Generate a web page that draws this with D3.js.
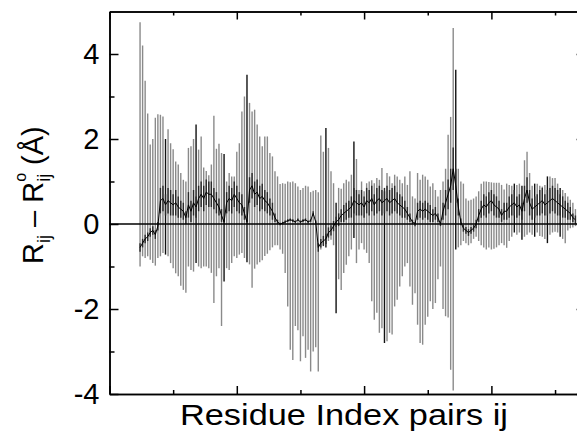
<!DOCTYPE html>
<html>
<head>
<meta charset="utf-8">
<script src="https://cdn.jsdelivr.net/npm/d3@7"></script>
<style>
  body { margin: 0; background: #fff; }
  text { font-family: "Liberation Sans", Arial, sans-serif; }
</style>
</head>
<body>
<script>
// residue pair ij runs from firstPair upwards, one entry per pair
var firstPair = 12;

var upper = [
  4.75, 4.2, 3.37, 2.6, 1.87, 2.0, 2.5, 2.58, 2.57, 2.53, 2.0, 2.23, 1.9, 1.76, 1.47, 1.4, 1.2, 1.04, 1.0, 1.79, 1.83, 2.0, 2.34, 1.75, 2.06, 1.33, 1.25, 1.15,
  1.4, 2.55, 1.77, 1.89, 1.67, 1.65, 1.0, 1.2, 1.12, 1.12, 1.7, 1.9, 2.65, 3.0, 3.51, 2.85, 2.65, 2.69, 2.34, 2.06, 1.83, 2.06, 2.06, 1.67, 1.59, 1.24, 1.12, 0.94, 0.96,
  0.95, 1.0, 0.98, 1.0, 0.96, 0.88, 0.8, 0.85, 0.9, 0.88, 0.75, 0.78, 0.8, 0.75, 2.08, 1.7, 2.26, 1.79, 1.24, 0.96, 0.5, 0.85, 0.83, 0.96, 1.04, 1.0, 1.16, 1.94, 1.53,
  0.8, 1.0, 0.77, 0.96, 1.0, 1.03, 0.96, 1.08, 1.04, 1.32, 0.77, 1.2, 1.12, 0.96, 1.16, 1.12, 1.04, 0.96, 1.12, 0.92, 1.24, 0.65, 0.6, 1.2, 1.04, 1.16, 1.12, 1.04, 0.88,
  0.96, 0.8, 0.65, 0.8, 1.0, 1.3, 2.1, 2.52, 4.61, 3.63, 1.3, 1.0, 0.95, 0.6, 0.55, 0.57, 0.6, 0.65, 0.77, 0.95, 1.0, 1.0, 0.99, 0.98, 0.97, 0.97, 0.97, 0.92, 0.81,
  0.95, 0.92, 0.9, 0.95, 0.92, 0.95, 0.9, 1.5, 1.7, 1.2, 0.9, 0.95, 0.95, 0.9, 0.88, 0.92, 1.12, 1.12, 1.08, 1.08, 0.95, 0.85, 0.8, 0.73, 0.65, 0.57, 0.5, 0.35
];

var lower = [
  -1.0, -0.76, -0.8, -0.76, -0.84, -0.92, -0.98, -0.8, -0.76, -0.68, -0.72, -0.76, -0.92, -1.04, -1.16, -1.23, -1.45, -1.55, -1.62, -1.0, -1.08, -1.12, -0.92, -1.0, -1.04, -1.0, -1.0, -1.04,
  -1.15, -1.86, -1.23, -1.04, -2.4, -1.35, -1.04, -1.08, -0.92, -0.76, -0.8, -0.72, -0.68, -0.8, -0.9, -0.95, -1.5, -1.05, -0.95, -0.9, -0.85, -0.75, -0.7, -0.62, -0.55, -0.5, -0.5, -0.6, -0.7,
  -1.15, -1.94, -2.96, -3.2, -2.4, -2.5, -3.23, -2.64, -3.15, -2.96, -3.47, -3.0, -2.9, -3.47, -0.6, -0.5, -0.55, -0.4, -0.37, -0.5, -2.1, -1.3, -1.55, -1.15, -0.96, -0.76, -0.6, -0.33, -0.92,
  -0.6, -0.45, -0.6, -0.68, -0.92, -1.82, -2.25, -2.09, -2.56, -2.45, -2.8, -2.76, -2.56, -2.6, -1.94, -1.78, -1.47, -1.23, -1.0, -0.92, -1.47, -1.9, -1.63, -2.37, -2.8, -2.84, -2.37, -2.18, -1.82,
  -2.0, -1.86, -1.3, -1.0, -2.0, -2.17, -2.2, -3.43, -3.92, -0.6, -0.55, -0.5, -0.4, -0.45, -0.5, -0.45, -0.35, -0.3, -0.4, -0.5, -0.55, -0.6, -0.55, -0.6, -0.58, -0.55, -0.5, -0.45, -0.5,
  -0.56, -0.4, -0.3, -0.2, -0.25, -0.2, -0.37, -0.3, -0.25, -0.2, -0.25, -0.3, -0.2, -0.28, -0.3, -0.35, -0.45, -0.25, -0.2, -0.18, -0.2, -0.3, -0.35, -0.45, -0.15, -0.1, -0.08, -0.05
];

var mean = [
  -0.55, -0.45, -0.35, -0.3, -0.2, -0.15, -0.25, -0.05, 0.55, 0.6, 0.45, 0.55, 0.5, 0.45, 0.5, 0.4, 0.35, 0.3, 0.15, 0.45, 0.3, 0.5, 0.4, 0.6, 0.7, 0.6, 0.75, 0.7,
  0.7, 0.6, 0.5, 0.4, 0.2, 0.05, 0.5, 0.6, 0.55, 0.7, 0.6, 0.5, 0.45, 0.25, 0.05, 0.8, 0.9, 0.7, 0.75, 0.6, 0.65, 0.55, 0.5, 0.4, 0.3, 0.15, 0.05, 0.0, 0.02,
  0.05, 0.08, 0.1, 0.08, 0.05, 0.1, 0.05, 0.08, 0.1, 0.05, 0.08, 0.25, 0.05, -0.55, -0.45, -0.4, -0.35, -0.2, -0.15, -0.05, 0.05, 0.1, 0.2, 0.25, 0.3, 0.35, 0.4, 0.55, 0.5,
  0.45, 0.5, 0.4, 0.55, 0.5, 0.6, 0.45, 0.55, 0.6, 0.5, 0.55, 0.6, 0.5, 0.55, 0.6, 0.5, 0.45, 0.4, 0.35, 0.25, 0.15, 0.05, 0.0, 0.3, 0.35, 0.3, 0.35, 0.3, 0.25,
  0.2, 0.25, 0.15, 0.0, 0.3, 0.5, 0.7, 0.9, 1.3, 0.9, 0.4, 0.05, -0.1, -0.15, -0.2, -0.15, -0.1, 0.0, 0.2, 0.35, 0.45, 0.4, 0.5, 0.55, 0.45, 0.4, 0.35, 0.2, 0.3,
  0.3, 0.4, 0.45, 0.5, 0.4, 0.45, 0.3, 0.6, 0.8, 0.5, 0.35, 0.4, 0.45, 0.5, 0.55, 0.45, 0.5, 0.55, 0.6, 0.55, 0.5, 0.45, 0.4, 0.35, 0.3, 0.25, 0.15, 0.1
];

// half-width of the dark inner spread around the mean
var spread = [
  0.1, 0.1, 0.1, 0.1, 0.1, 0.1, 0.1, 0.1, 0.3, 0.3, 0.25, 0.3, 0.3, 0.25, 0.3, 0.25, 0.2, 0.2, 0.15, 0.3, 0.25, 0.3, 0.25, 0.3, 0.3, 0.3, 0.3, 0.3,
  0.3, 0.25, 0.25, 0.2, 0.15, 0.05, 0.25, 0.3, 0.3, 0.3, 0.3, 0.25, 0.25, 0.15, 0.05, 0.3, 0.3, 0.3, 0.3, 0.3, 0.3, 0.25, 0.25, 0.2, 0.2, 0.1, 0.05, 0.03, 0.03,
  0.03, 0.03, 0.03, 0.03, 0.03, 0.03, 0.03, 0.03, 0.03, 0.03, 0.03, 0.05, 0.03, 0.1, 0.1, 0.12, 0.12, 0.12, 0.12, 0.12, 0.12, 0.15, 0.15, 0.2, 0.2, 0.2, 0.25, 0.3, 0.3,
  0.25, 0.3, 0.25, 0.3, 0.3, 0.3, 0.25, 0.3, 0.3, 0.3, 0.3, 0.3, 0.3, 0.3, 0.3, 0.25, 0.25, 0.25, 0.2, 0.15, 0.1, 0.05, 0.05, 0.2, 0.2, 0.2, 0.2, 0.2, 0.2,
  0.15, 0.15, 0.1, 0.05, 0.2, 0.3, 0.35, 0.4, 0.5, 0.4, 0.2, 0.08, 0.08, 0.08, 0.08, 0.08, 0.08, 0.1, 0.15, 0.2, 0.25, 0.25, 0.25, 0.25, 0.25, 0.25, 0.2, 0.15, 0.2,
  0.2, 0.25, 0.25, 0.3, 0.25, 0.25, 0.2, 0.3, 0.3, 0.3, 0.25, 0.25, 0.25, 0.3, 0.3, 0.25, 0.3, 0.3, 0.3, 0.3, 0.3, 0.25, 0.25, 0.2, 0.2, 0.15, 0.1, 0.1
];

// bars that are drawn black in the figure (offset into the arrays)
var blackBars = [10, 22, 33, 42, 73, 77, 84, 96, 124, 147, 150, 155, 160, 165];

var yMajor = [-4, -2, 0, 2, 4];
var yMinor = [-3, -1, 1, 3];
var xMajor = [0, 50, 100, 150];
var xMinor = [25, 75, 125, 175];

var width = 577, height = 441;

var svg = d3.select('body').append('svg')
  .attr('width', width)
  .attr('height', height);

var x = d3.scaleLinear().domain([0, 187]).range([109.5, 585.6]);
var y = d3.scaleLinear().domain([-4, 5]).range([394, 11.5]);

var rows = upper.map(function (u, i) {
  return { pair: firstPair + i, hi: u, lo: lower[i], m: mean[i], s: spread[i], black: blackBars.indexOf(i) >= 0 };
});

svg.selectAll('.bar')
  .data(rows)
  .enter()
  .append('line')
  .attr('class', 'bar')
  .attr('x1', function (d) { return x(d.pair); })
  .attr('x2', function (d) { return x(d.pair); })
  .attr('y1', function (d) { return y(d.lo); })
  .attr('y2', function (d) { return y(d.hi); })
  .attr('stroke', function (d) { return d.black ? '#111' : '#8a8a8a'; })
  .attr('stroke-width', 1.4);

svg.selectAll('.inner')
  .data(rows)
  .enter()
  .append('line')
  .attr('class', 'inner')
  .attr('x1', function (d) { return x(d.pair); })
  .attr('x2', function (d) { return x(d.pair); })
  .attr('y1', function (d) { return y(d.m - d.s); })
  .attr('y2', function (d) { return y(d.m + d.s); })
  .attr('stroke', '#2a2a2a')
  .attr('stroke-width', 1.4);

svg.append('path')
  .datum(rows)
  .attr('fill', 'none')
  .attr('stroke', '#000')
  .attr('stroke-width', 1)
  .attr('d', d3.line()
    .x(function (d) { return x(d.pair); })
    .y(function (d) { return y(d.m); }));

// zero line
svg.append('line')
  .attr('x1', x(0)).attr('x2', x(187))
  .attr('y1', y(0)).attr('y2', y(0))
  .attr('stroke', '#000')
  .attr('stroke-width', 1.6);

function frame(axis, tx, ty) {
  var g = svg.append('g').attr('transform', 'translate(' + tx + ',' + ty + ')').call(axis);
  g.selectAll('path, line').attr('stroke', '#000').attr('stroke-width', 1.5);
  return g;
}

var left = frame(d3.axisLeft(y).tickValues(yMajor).tickSize(-9).tickSizeOuter(0).tickPadding(10)
  .tickFormat(function (d) { return d; }), x(0), 0);
left.selectAll('text').attr('font-size', 29).attr('fill', '#000')
  .attr('font-family', '"Liberation Sans", Arial, sans-serif');
frame(d3.axisLeft(y).tickValues(yMinor).tickSize(-5).tickSizeOuter(0).tickFormat(''), x(0), 0);
frame(d3.axisRight(y).tickValues(yMajor).tickSize(-9).tickSizeOuter(0).tickFormat(''), x(187), 0);
frame(d3.axisRight(y).tickValues(yMinor).tickSize(-5).tickSizeOuter(0).tickFormat(''), x(187), 0);

frame(d3.axisBottom(x).tickValues(xMajor).tickSize(-8).tickSizeOuter(0).tickFormat(''), 0, y(-4));
frame(d3.axisBottom(x).tickValues(xMinor).tickSize(-4).tickSizeOuter(0).tickFormat(''), 0, y(-4));
frame(d3.axisTop(x).tickValues(xMajor).tickSize(-8).tickSizeOuter(0).tickFormat(''), 0, y(5));
frame(d3.axisTop(x).tickValues(xMinor).tickSize(-4).tickSizeOuter(0).tickFormat(''), 0, y(5));

svg.append('text')
  .attr('x', 344)
  .attr('y', 425)
  .attr('text-anchor', 'middle')
  .attr('font-size', 30)
  .attr('textLength', 328)
  .attr('lengthAdjust', 'spacingAndGlyphs')
  .text('Residue Index pairs ij');

var yt = svg.append('text')
  .attr('transform', 'translate(43,264) rotate(-90)')
  .attr('font-size', 29);
yt.append('tspan').text('R');
yt.append('tspan').attr('font-size', 18).attr('dy', 7).text('ij');
yt.append('tspan').attr('dy', -7).text(' \u2013 R');
var sub = yt.append('tspan').attr('font-size', 18).attr('dy', 7).text('ij');
yt.append('tspan').attr('font-size', 16)
  .attr('dx', -sub.node().getComputedTextLength())
  .attr('dy', -24).text('o');
yt.append('tspan').attr('dy', 17).text(' (\u00c5)');
</script>
</body>
</html>
